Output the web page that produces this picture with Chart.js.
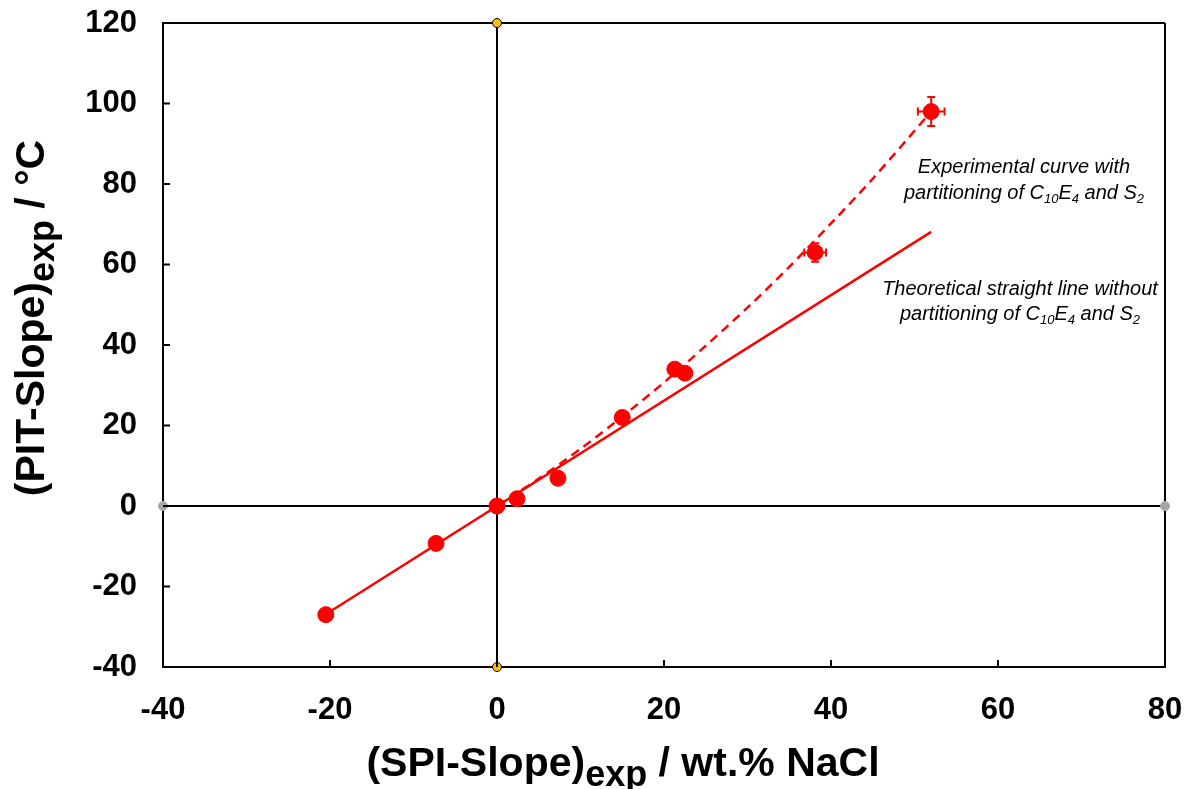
<!DOCTYPE html>
<html>
<head>
<meta charset="utf-8">
<script src="https://cdn.jsdelivr.net/npm/chart.js@4.4.0/dist/chart.umd.min.js"></script>
<style>
  html, body { margin: 0; padding: 0; background: #fff; }
</style>
</head>
<body>
<canvas id="myChart" width="1194" height="789"></canvas>
<script>
// measured points
const spiExp = [-20.5, -7.3, 0, 2.4, 7.3, 15, 21.3, 22.5, 38.1, 52];
const pitExp = [-27, -9.3, 0, 1.8, 6.9, 22, 34, 33, 63, 98];
const spiErr = [0.5, 0.4, 0.3, 0.4, 0.4, 0.5, 0.6, 0.6, 1.3, 1.6];
const pitErr = [0.6, 0.5, 0.4, 0.5, 0.5, 0.6, 0.8, 0.8, 2.3, 3.6];

// theoretical straight line
const theoX = [-20.5, 52];
const theoY = [-26.9, 68.1];

// experimental (dashed) curve
const curveX = [0, 5, 10, 15, 20, 25, 30, 35, 40, 45, 52];
const curveY = [0, 6.8, 14.2, 22.2, 30.7, 39.8, 49.3, 59.4, 70.2, 81.3, 98];

// little axis marker dots
const yellowX = [0, 0];
const yellowY = [120, -40];
const grayX = [-40, 80];
const grayY = [0, 0];

const xTicks = [-40, -20, 0, 20, 40, 60, 80];
const yTicks = [-40, -20, 0, 20, 40, 60, 80, 100, 120];

const pts = (xs, ys) => xs.map((x, i) => ({ x: x, y: ys[i] }));
const FONT = "'Liberation Sans', Arial, sans-serif";

// draws text made of normal and subscript parts
function richText(ctx, parts, x, y, size, subSize, subDrop, style, align) {
  let w = 0;
  parts.forEach(p => {
    ctx.font = style + " " + (p.sub ? subSize : size) + "px " + FONT;
    w += ctx.measureText(p.t).width;
  });
  let cx = align === "center" ? x - w / 2 : x;
  parts.forEach(p => {
    ctx.font = style + " " + (p.sub ? subSize : size) + "px " + FONT;
    ctx.fillText(p.t, cx, p.sub ? y + subDrop : y);
    cx += ctx.measureText(p.t).width;
  });
}

const extras = {
  id: "extras",
  afterDatasetsDraw(chart) {
    const ctx = chart.ctx;
    const xs = chart.scales.x, ys = chart.scales.y;
    // error bars
    ctx.save();
    ctx.strokeStyle = "#ff0000";
    ctx.lineWidth = 2;
    spiExp.forEach((x, i) => {
      const px = xs.getPixelForValue(x), py = ys.getPixelForValue(pitExp[i]);
      const x1 = xs.getPixelForValue(x - spiErr[i]), x2 = xs.getPixelForValue(x + spiErr[i]);
      const y1 = ys.getPixelForValue(pitExp[i] - pitErr[i]), y2 = ys.getPixelForValue(pitExp[i] + pitErr[i]);
      ctx.beginPath();
      ctx.moveTo(x1, py); ctx.lineTo(x2, py);
      ctx.moveTo(x1, py - 4); ctx.lineTo(x1, py + 4);
      ctx.moveTo(x2, py - 4); ctx.lineTo(x2, py + 4);
      ctx.moveTo(px, y1); ctx.lineTo(px, y2);
      ctx.moveTo(px - 4, y1); ctx.lineTo(px + 4, y1);
      ctx.moveTo(px - 4, y2); ctx.lineTo(px + 4, y2);
      ctx.stroke();
    });
    ctx.restore();
  },
  afterDraw(chart) {
    const ctx = chart.ctx;
    const xs = chart.scales.x, ys = chart.scales.y;
    const a = chart.chartArea;
    ctx.save();
    // inner tick marks
    ctx.strokeStyle = "#000";
    ctx.lineWidth = 2;
    ctx.beginPath();
    yTicks.forEach(v => {
      const py = ys.getPixelForValue(v);
      ctx.moveTo(a.left, py); ctx.lineTo(a.left + 7, py);
    });
    xTicks.forEach(v => {
      const px = xs.getPixelForValue(v);
      ctx.moveTo(px, a.bottom); ctx.lineTo(px, a.bottom - 7);
    });
    ctx.stroke();

    ctx.fillStyle = "#000";
    ctx.textBaseline = "alphabetic";
    // axis titles
    richText(ctx, [{ t: "(SPI-Slope)" }, { t: "exp", sub: true }, { t: " / wt.% NaCl" }],
      623, 776, 41, 36, 10, "bold", "center");
    ctx.save();
    ctx.translate(44, 318);
    ctx.rotate(-Math.PI / 2);
    richText(ctx, [{ t: "(PIT-Slope)" }, { t: "exp", sub: true }, { t: " / °C" }],
      0, 0, 41, 36, 10, "bold", "center");
    ctx.restore();

    // annotations
    richText(ctx, [{ t: "Experimental curve with" }], 1024, 173, 20, 13, 4, "italic", "center");
    richText(ctx, [{ t: "partitioning of C" }, { t: "10", sub: true }, { t: "E" }, { t: "4", sub: true },
      { t: " and S" }, { t: "2", sub: true }], 1024, 199, 20, 13, 4, "italic", "center");
    richText(ctx, [{ t: "Theoretical straight line without" }], 1020, 295, 20, 13, 4, "italic", "center");
    richText(ctx, [{ t: "partitioning of C" }, { t: "10", sub: true }, { t: "E" }, { t: "4", sub: true },
      { t: " and S" }, { t: "2", sub: true }], 1020, 320, 20, 13, 4, "italic", "center");
    ctx.restore();
  }
};

const myChart = document.getElementById("myChart").getContext("2d");

let scatterChart = new Chart(myChart, {
  type: "scatter",
  data: {
    datasets: [
      {
        label: "axis dots yellow",
        data: pts(yellowX, yellowY),
        pointRadius: 4.5,
        pointBackgroundColor: "#ffc000",
        pointBorderColor: "#000",
        pointBorderWidth: 1,
        clip: false,
        order: 0
      },
      {
        label: "axis dots gray",
        data: pts(grayX, grayY),
        pointRadius: 4.5,
        pointBackgroundColor: "#a6a6a6",
        pointBorderColor: "#a6a6a6",
        clip: false,
        order: 0
      },
      {
        label: "measured",
        data: pts(spiExp, pitExp),
        pointRadius: 8,
        pointBackgroundColor: "#ff0000",
        pointBorderColor: "#ff0000",
        order: 1
      },
      {
        label: "theoretical",
        data: pts(theoX, theoY),
        showLine: true,
        borderColor: "#ff0000",
        borderWidth: 2.5,
        pointRadius: 0,
        order: 2
      },
      {
        label: "experimental curve",
        data: pts(curveX, curveY),
        showLine: true,
        borderColor: "#ff0000",
        borderWidth: 2.5,
        borderDash: [9, 6],
        tension: 0.3,
        pointRadius: 0,
        order: 2
      }
    ]
  },
  options: {
    responsive: false,
    animation: false,
    layout: { padding: { top: 23, right: 29, left: 0, bottom: 0 } },
    plugins: {
      legend: { display: false },
      tooltip: { enabled: false }
    },
    scales: {
      x: {
        type: "linear",
        min: -40,
        max: 80,
        afterBuildTicks: s => { s.ticks = xTicks.map(v => ({ value: v })); },
        afterFit: s => { s.height = 122; s.paddingLeft = 0; s.paddingRight = 0; },
        border: { color: "#000", width: 2 },
        grid: {
          drawTicks: false,
          lineWidth: 2,
          color: c => (c.tick && (c.tick.value === 0 || c.tick.value === 80)) ? "#000" : "rgba(0,0,0,0)"
        },
        ticks: {
          padding: 25,
          color: "#000",
          font: { family: FONT, size: 31, weight: "bold" }
        }
      },
      y: {
        type: "linear",
        min: -40,
        max: 120,
        afterBuildTicks: s => { s.ticks = yTicks.map(v => ({ value: v })); },
        afterFit: s => { s.width = 163; s.paddingTop = 0; s.paddingBottom = 0; },
        border: { color: "#000", width: 2 },
        grid: {
          drawTicks: false,
          lineWidth: 2,
          color: c => (c.tick && (c.tick.value === 0 || c.tick.value === 120)) ? "#000" : "rgba(0,0,0,0)"
        },
        ticks: {
          padding: 26,
          color: "#000",
          font: { family: FONT, size: 31, weight: "bold" }
        }
      }
    }
  },
  plugins: [extras]
});
</script>
</body>
</html>
